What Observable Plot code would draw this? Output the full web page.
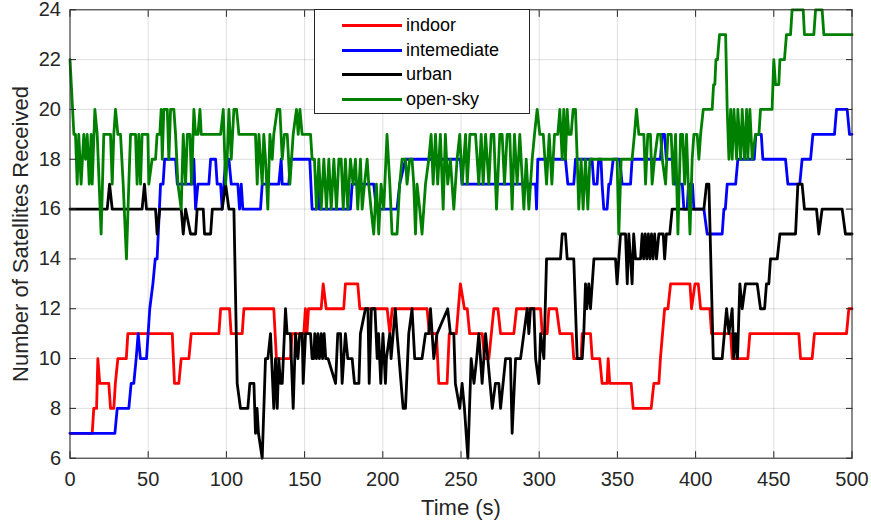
<!DOCTYPE html>
<html><head><meta charset="utf-8">
<script src="https://cdn.jsdelivr.net/npm/d3@7"></script>
<script src="https://cdn.jsdelivr.net/npm/@observablehq/plot@0.6"></script>
<style>
body{margin:0;background:#fff;}
#wrap{position:relative;width:871px;height:523px;font-family:"Liberation Sans",Arial,Helvetica,sans-serif;}
#legend{position:absolute;left:314px;top:9px;width:216px;height:105px;border:1px solid #262626;background:#fff;box-sizing:border-box;}
.row{position:absolute;left:0;height:24px;width:100%;}
.sw{position:absolute;left:27px;width:60px;top:11px;height:3px;}
.lb{position:absolute;left:91px;top:0;font-size:18px;line-height:24px;color:#000;}
</style></head><body><div id="wrap"></div>
<script>
// ---- data (time in s, satellites received) ----
const xTicks = [0,50,100,150,200,250,300,350,400,450,500];
const yTicks = [6,8,10,12,14,16,18,20,22,24];
const seriesNames = ["indoor","intemediate","urban","open-sky"];
const seriesColors = ["#ff0000","#0000ff","#000000","#008000"];

const indoor = [[0,7],[14.2,7],[15.2,8],[17,8],[17.8,10],[19,9],[24.8,9],[25.9,8],[28,8],[29,9],[30.6,10],[36,10],[37,11],[65.4,11],[66.8,9],[69.6,9],[71.1,10],[76,10],[77.5,11],[95.2,11],[96.3,12],[102,12],[103,11],[110.1,11],[111.2,12],[130.3,12],[132,10],[141,10],[142,11],[149.5,11],[150.5,12],[151.5,11],[152.5,12],[160.6,12],[161.9,13],[163.8,12],[175,12],[176.1,13],[184,13],[185.3,12],[202.8,12],[204.5,11],[206,12],[228.3,12],[229.8,11],[234.3,11],[235.8,9],[241.1,9],[242.5,11],[247,11],[249.6,13],[252.2,12],[254,12],[255.5,11],[263.6,11],[265,10],[267.8,10],[271,12],[273.6,12],[275.3,11],[283.8,11],[285.5,12],[300.9,12],[301.9,11],[305.1,11],[306.2,12],[311.1,12],[313.2,11],[321,11],[322.1,10],[326.8,10],[327.5,11],[332.8,11],[333.9,10],[338.7,10],[340.2,9],[343.4,9],[344.1,10],[345.1,9],[358.8,9],[360.1,8],[371.6,8],[373.3,9],[376.5,9],[377.5,10],[380.2,12],[382.3,12],[384,13],[396.4,13],[397.4,12],[399.6,13],[401.7,13],[403.2,12],[409.1,12],[410.2,11],[422.4,11],[423.4,10],[433.4,10],[434.7,11],[466,11],[467.1,10],[474.5,10],[476,11],[496.5,11],[498,12],[500,12]];

const intemediate = [[0,7],[28.7,7],[30.2,8],[37.6,8],[39.1,9],[40.8,9],[42.3,10],[43.6,11],[45,10],[48.9,10],[51,12],[53,13],[54.5,14],[55.7,14],[57.9,17],[59.5,17],[60.5,18],[67.5,18],[68.6,17],[78.1,17],[78.8,18],[79.2,18],[80.3,16],[81.8,17],[88.8,17],[89.9,18],[93.1,18],[94.1,17],[96.3,17],[97.3,16],[98.4,17],[99.5,18],[101.6,18],[103.1,17],[107.3,17],[108.4,16],[109.5,17],[110.5,16],[121.8,16],[122.9,17],[133.5,17],[135,18],[135.7,17],[139.9,17],[141,18],[153.3,18],[154.8,16],[157.6,16],[158.5,17],[159.3,16],[179.3,16],[180.4,17],[194.2,17],[195.9,16],[209.1,16],[210.8,17],[214.5,18],[249.6,18],[250.7,17],[297.7,17],[298.3,16],[299.1,18],[316.8,18],[318.3,17],[322.1,17],[323.2,18],[333.8,18],[334.9,17],[337,17],[338,18],[339.5,18],[340.2,17],[341.3,16],[343.4,16],[344.5,17],[345.5,17],[347.3,18],[351.5,18],[353,17],[358.4,17],[359.4,18],[377.5,18],[378.6,19],[380.1,19],[381.3,18],[386,18],[386.5,17],[391.5,17],[392.5,16],[394.6,16],[395.5,17],[398,17],[398.9,16],[405.3,16],[407.4,15],[417,15],[418.1,16],[419,16],[420.2,17],[425.6,17],[427,18],[437.5,18],[438.5,19],[442,19],[443,18],[457.5,18],[459,17],[466.6,17],[468.1,18],[473.5,18],[475,19],[488.8,19],[490.1,20],[496.9,20],[498.4,19],[500,19]];

const urban = [[0,16],[23.8,16],[25.3,17],[27,16],[46.1,16],[47.6,17],[48.9,16],[54.7,16],[55.7,15],[57.4,16],[71.1,16],[72.4,15],[73.9,16],[77.1,15],[80.3,15],[81.3,16],[85.2,16],[86,15],[89.9,15],[91,16],[97.3,16],[99.5,17],[101.6,16],[104.8,16],[106.9,9],[109,8],[113.7,8],[115,9],[117.6,9],[118.6,7],[119.6,8],[120.5,7],[122.9,6],[125,10],[126.5,10],[128.2,11],[130.3,8],[131.4,10],[132.5,8],[133.5,10],[134.6,9],[135.7,9],[137.8,12],[138.8,11],[140.9,11],[142.7,8],[144.2,11],[145.7,10],[146.9,11],[148.5,11],[149.1,9],[150.6,11],[153.8,11],[154.8,10],[155.9,10],[156.5,11],[157.6,10],[158.5,11],[159.5,10],[160.6,11],[161.5,10],[162.5,11],[163.5,10],[165,10],[169.8,9],[171.2,11],[173,11],[174,9],[176.1,11],[177.6,10],[180.4,10],[181.9,9],[184.7,9],[185.7,11],[188.9,12],[190.5,12],[191.3,9],[192.7,12],[195,12],[196.4,10],[197.3,11],[198.7,9],[200.1,11],[201.7,9],[202.3,10],[204.5,11],[205.3,10],[208,12],[209.1,11],[213,8],[214.5,8],[216.6,11],[218.7,12],[220.4,10],[225.1,10],[227.3,11],[229.4,11],[230.5,12],[232.6,10],[234.7,11],[241.5,12],[243.2,11],[245.4,11],[246.4,9],[249.2,8],[250.7,9],[252.2,8],[254.4,6],[256.5,10],[258.3,9],[260,10],[261.4,11],[263.5,9],[265.7,11],[270,8],[272,9],[274.2,9],[275.3,8],[278.5,10],[281.6,10],[282.7,7],[284.9,10],[288.1,10],[290.2,11],[292.3,12],[293.4,11],[294.4,12],[296.6,12],[297.7,10],[299.8,9],[300.9,11],[303,10],[304.7,14],[313.6,14],[314.7,15],[316.8,15],[317.9,14],[322.1,14],[324.3,10],[327.5,10],[328.5,11],[329.6,13],[330.5,12],[331.7,13],[332.8,12],[333.9,13],[335,14],[348.8,14],[349.8,13],[352,15],[355.2,15],[356.3,13],[357.3,15],[358.4,14],[359.4,13],[360.4,15],[361.6,14],[364.8,14],[365.8,15],[366.8,14],[367.8,15],[368.8,14],[369.8,15],[370.8,14],[371.8,15],[372.8,14],[373.8,15],[375,14],[376.5,15],[379.3,15],[380.2,14],[381.3,15],[383.5,15],[385,16],[405.3,16],[407,17],[408.5,17],[411.3,10],[417,10],[419.8,12],[421.3,11],[423.4,12],[424.4,10],[425.6,11],[426.8,10],[428.3,13],[429.8,12],[431.9,13],[439.4,13],[441.5,12],[444.1,12],[445.3,13],[446.8,13],[447.9,14],[452.2,14],[453.9,15],[463.9,15],[465.4,17],[468.1,17],[469.6,16],[477.3,16],[478.8,15],[480.9,16],[493.7,16],[495.8,15],[500,15]];

const openSky = [[0,22],[2.5,19],[3.5,19],[4.6,17],[5.6,19],[7.1,17],[8.8,19],[9.9,18],[11,19],[12.3,17],[13.5,19],[14.2,17],[15.9,20],[17.4,19],[19.9,15],[21.6,19],[25.9,19],[27,17],[28,19],[29.1,20],[30.6,19],[32.3,19],[34,17],[36.1,14],[37.6,17],[38.7,19],[41.9,19],[42.9,17],[44,19],[45.1,17],[46.1,19],[49.8,19],[50.4,17],[52.5,18],[54.7,18],[55.7,19],[57.4,19],[58.3,20],[59,18],[60,20],[62.2,20],[63.2,18],[64.3,20],[66.4,20],[67.5,19],[69,17],[71.1,16],[72.4,19],[73.9,17],[75,19],[76.7,19],[77.7,17],[79.2,20],[80.3,19],[81.8,19],[83.1,20],[83.9,19],[96.3,19],[98,20],[99.5,17],[100.5,18],[101.6,20],[103.1,18],[104.8,20],[106.5,20],[108,19],[118.6,19],[119.7,17],[120.8,19],[122.9,17],[123.9,19],[125,18],[126.5,16],[127.8,19],[129.3,18],[130.3,19],[132.5,20],[134.2,20],[135.7,18],[137.1,19],[138.9,19],[140.6,17],[142.7,19],[144.8,20],[145.9,19],[147,20],[148.4,19],[153.8,19],[154.8,18],[156.3,18],[157.6,16],[159.1,18],[160.6,16],[162.3,18],[164,16],[165.5,18],[167,16],[168.7,18],[170.4,16],[171.9,18],[173.4,18],[174.7,16],[176.1,18],[177.6,16],[179.3,18],[181,17],[182.5,18],[184,16],[185.7,18],[186.8,16],[188.3,17],[190,18],[191,17],[192.5,16],[194.2,15],[195.9,17],[197.4,15],[198.9,17],[200.6,16],[202.7,19],[204.5,17],[205.9,15],[209.1,15],[210.8,17],[212.3,18],[214.5,18],[215.5,17],[217.2,18],[218.7,18],[219.8,17],[220.9,15],[221.9,17],[223.6,16],[225.1,15],[227.3,17],[229.4,18],[230.9,19],[232.2,17],[233.7,19],[235.1,17],[236.8,19],[238.6,16],[240,19],[241.5,17],[243.2,18],[245.4,16],[247.5,18],[249.2,19],[250.8,17],[252.9,19],[254,17],[255.7,19],[259.3,19],[261.4,17],[262.9,19],[264.2,17],[265.7,19],[267.8,17],[269.3,19],[271,19],[272.7,16],[274.8,19],[276.3,19],[277.8,17],[279.5,19],[281.2,19],[282.7,16],[284.2,19],[285.9,17],[287.6,19],[290.2,16],[291.7,18],[293.4,16],[295.5,18],[297,19],[298.7,20],[300.4,19],[302.6,19],[304.7,17],[306.4,19],[308.1,17],[309.8,19],[311.9,19],[313.2,20],[314.7,18],[315.7,20],[316.8,18],[317.9,20],[318.9,19],[320.4,19],[321.7,20],[323.2,20],[324.3,18],[325.3,16],[326.8,18],[328.1,16],[329.6,18],[331.1,16],[332.4,18],[349.8,18],[350.9,15],[352.4,18],[359.4,18],[360.9,19],[362.2,20],[363.7,19],[366.9,19],[368,17],[369.4,19],[371.1,19],[372.2,17],[373.7,18],[375.8,19],[377.6,19],[378.7,18],[380.8,17],[382.3,19],[384.4,19],[385.7,17],[387.2,19],[388.7,15],[390.4,19],[391.7,19],[393,17],[394.2,19],[396.4,15],[397.8,18],[398.9,19],[401,19],[402.1,18],[403.2,19],[404.9,20],[410.6,20],[411.5,21],[412.3,21],[413,22],[414,22],[415.3,23],[419.2,23],[420.2,20],[421.3,18],[422.4,20],[423.4,18],[424.5,20],[426.2,18],[427,20],[428.8,18],[429.8,20],[431.3,18],[432.6,20],[433.4,18],[434.7,20],[436.2,18],[438.3,19],[440.5,19],[441.5,20],[448.9,20],[450,22],[451.1,21],[453.2,21],[453.9,22],[456.8,22],[458.1,23],[460.7,23],[461.7,24],[468.8,24],[469.6,23],[475.6,23],[476.7,24],[480.9,24],[482,23],[500,23]];

const xTitle = "Time (s)";
const yTitle = "Number of Satellites Received";

// ---- chart ----
const allSeries = [indoor, intemediate, urban, openSky];
const rows = allSeries.flatMap((pts, i) => pts.map(([t, v]) => ({series: seriesNames[i], t, v})));
const blank = () => "";
const axisColor = "#262626";

const chart = Plot.plot({
  width: 871, height: 523,
  marginLeft: 69.5, marginRight: 19.5, marginTop: 9.3, marginBottom: 65.3,
  style: {fontFamily: "'Liberation Sans', Arial, Helvetica, sans-serif", fontSize: "20px", color: axisColor, background: "#fff", overflow: "visible"},
  x: {domain: [0, 500]},
  y: {domain: [6, 24]},
  color: {domain: seriesNames, range: seriesColors},
  marks: [
    Plot.gridX(xTicks, {stroke: axisColor, strokeOpacity: 0.15, strokeWidth: 1}),
    Plot.gridY(yTicks, {stroke: axisColor, strokeOpacity: 0.15, strokeWidth: 1}),
    Plot.line(rows, {x: "t", y: "v", z: "series", stroke: "series", strokeWidth: 2.8, strokeLinejoin: "round", curve: "linear"}),
    Plot.frame({stroke: axisColor, strokeWidth: 1}),
    Plot.axisX(xTicks, {anchor: "bottom", tickSize: -6.5, tickFormat: blank, label: null, stroke: axisColor}),
    Plot.axisX(xTicks, {anchor: "top", tickSize: -6.5, tickFormat: blank, label: null, stroke: axisColor}),
    Plot.axisY(yTicks, {anchor: "left", tickSize: -6.5, tickFormat: blank, label: null, stroke: axisColor}),
    Plot.axisY(yTicks, {anchor: "right", tickSize: -6.5, tickFormat: blank, label: null, stroke: axisColor}),
    Plot.axisX(xTicks, {anchor: "bottom", tickSize: 0, tickPadding: 14, label: null, fontSize: 20, fill: axisColor}),
    Plot.axisY(yTicks, {anchor: "left", tickSize: 0, tickPadding: 9, label: null, fontSize: 20, fill: axisColor}),
    Plot.text([xTitle], {text: d => d, frameAnchor: "bottom", dy: 50, fontSize: 22, fill: axisColor, textAnchor: "middle", lineAnchor: "middle"}),
    Plot.text([yTitle], {text: d => d, frameAnchor: "left", dx: -49.5, rotate: -90, fontSize: 22, fill: axisColor, textAnchor: "middle", lineAnchor: "middle"})
  ]
});
const wrap = document.getElementById("wrap");
wrap.appendChild(chart);

// legend (inside the axes, top-centre)
const legend = document.createElement("div");
legend.id = "legend";
seriesNames.forEach((name, i) => {
  const row = document.createElement("div");
  row.className = "row";
  row.style.top = (3 + i * 24.6) + "px";
  const sw = document.createElement("div");
  sw.className = "sw";
  sw.style.background = seriesColors[i];
  const lb = document.createElement("div");
  lb.className = "lb";
  lb.textContent = name;
  row.appendChild(sw); row.appendChild(lb);
  legend.appendChild(row);
});
wrap.appendChild(legend);
</script></body></html>
